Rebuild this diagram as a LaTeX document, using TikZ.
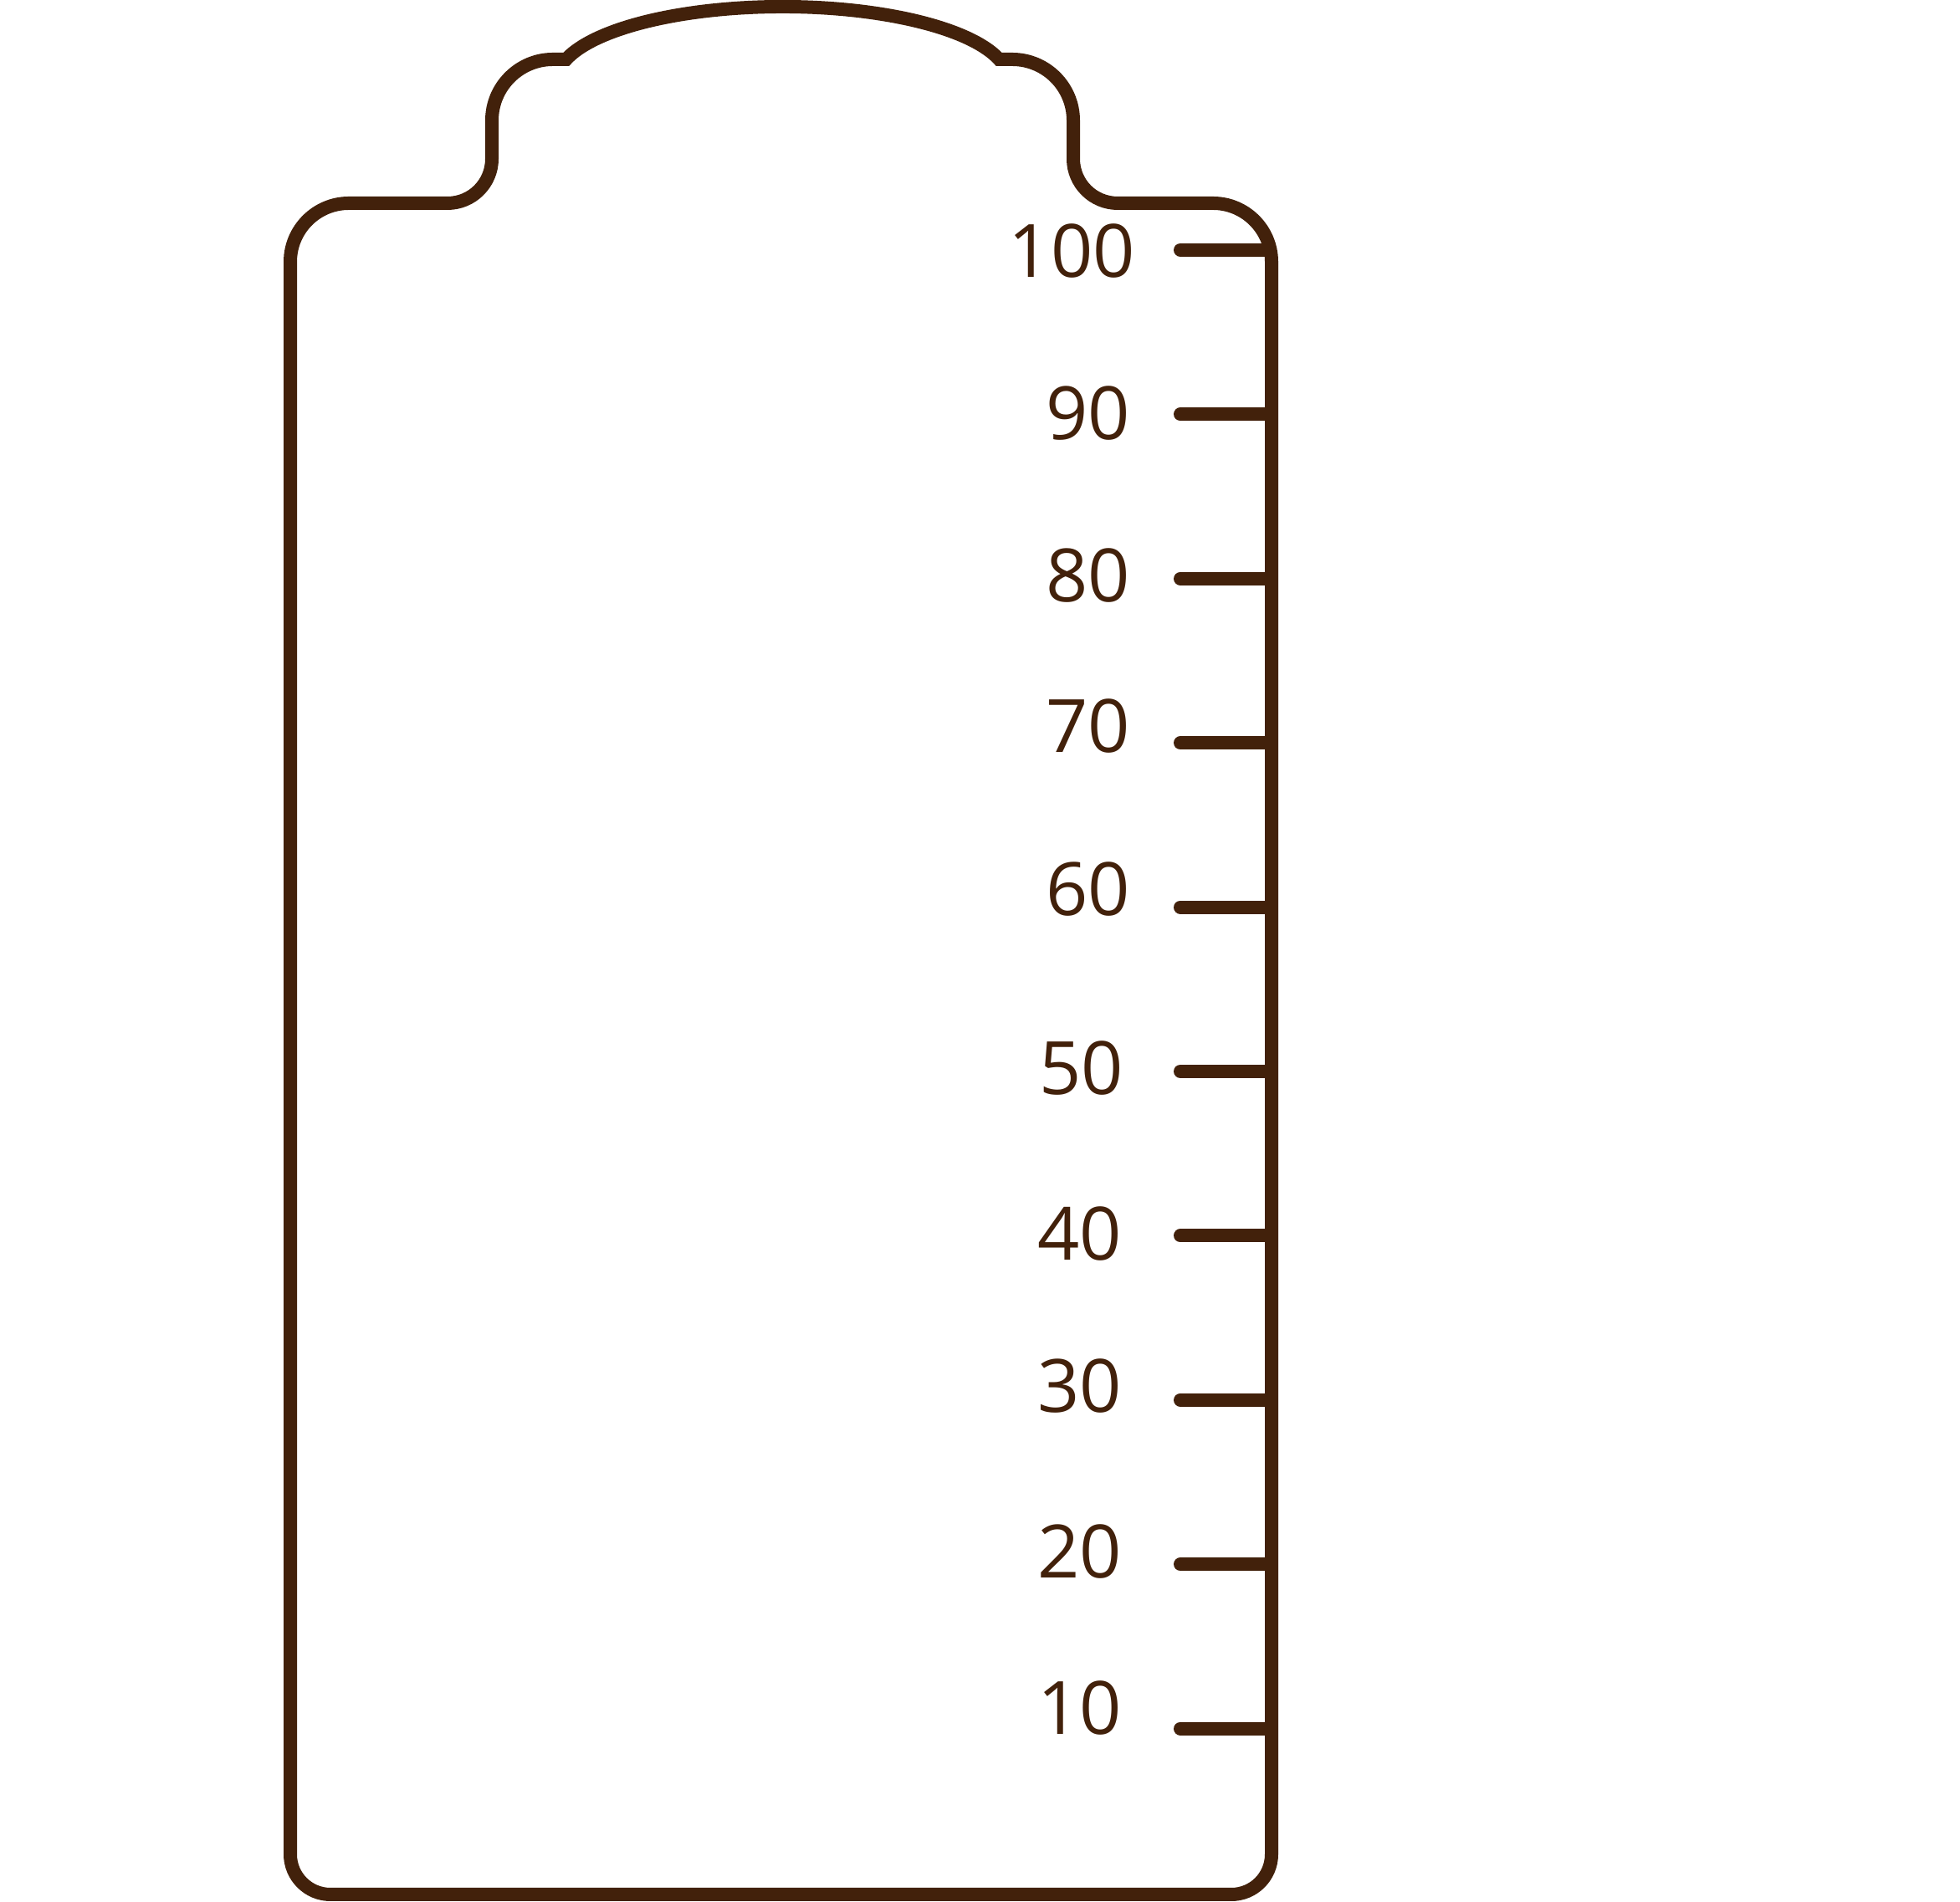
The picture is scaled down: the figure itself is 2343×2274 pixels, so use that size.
\documentclass[tikz,border=0pt]{standalone}
\usepackage{fontspec}
\setmainfont{Open Sans}
\definecolor{brownline}{HTML}{42210B}
\begin{document}
\begin{tikzpicture}[x=1pt,y=1pt,
  outline/.style={draw=brownline,line width=16pt,line join=miter},
  tickmark/.style={draw=brownline,line width=16pt,line cap=round},
  scalelabel/.style={text=brownline,inner sep=0pt,anchor=east,font=\fontsize{88}{90}\selectfont}]
\useasboundingbox (0,0) rectangle (2343,2274);
% bottle outline
\draw[outline] (395,9) -- (1472,9)
  arc[start angle=-90,end angle=0,radius=48] -- (1520,1961)
  arc[start angle=0,end angle=90,radius=70] -- (1336,2031)
  arc[start angle=-90,end angle=-180,radius=53] -- (1283,2130)
  arc[start angle=0,end angle=90,radius=73] -- (1194.3,2203)
  arc[start angle=16.56,end angle=163.44,x radius=270,y radius=88.1] -- (661,2203)
  arc[start angle=90,end angle=180,radius=73] -- (588,2084)
  arc[start angle=0,end angle=-90,radius=53] -- (417,2031)
  arc[start angle=90,end angle=180,radius=70] -- (347,57)
  arc[start angle=180,end angle=270,radius=48] -- cycle;
% ticks
\foreach \i/\yy in {1/207.4,2/403.8,3/600.2,4/796.6,5/993,6/1189.4,7/1385.8,8/1582.2,9/1778.6,10/1975}{
  \coordinate (ta\i) at (1411,\yy);
  \coordinate (tb\i) at (1512,\yy);
  \draw[tickmark] (ta\i) -- (tb\i);
}
% labels
\node[scalelabel] (l100) at (1357,1974) {100};
\node[scalelabel] (l90) at (1351,1779.5) {90};
\node[scalelabel] (l80) at (1351,1586) {80};
\node[scalelabel] (l70) at (1351,1406) {70};
\node[scalelabel] (l60) at (1351,1211) {60};
\node[scalelabel] (l50) at (1343,997.3) {50};
\node[scalelabel] (l40) at (1341,799.3) {40};
\node[scalelabel] (l30) at (1341,616.5) {30};
\node[scalelabel] (l20) at (1341,418.5) {20};
\node[scalelabel] (l10) at (1341,232) {10};
\end{tikzpicture}
\end{document}
